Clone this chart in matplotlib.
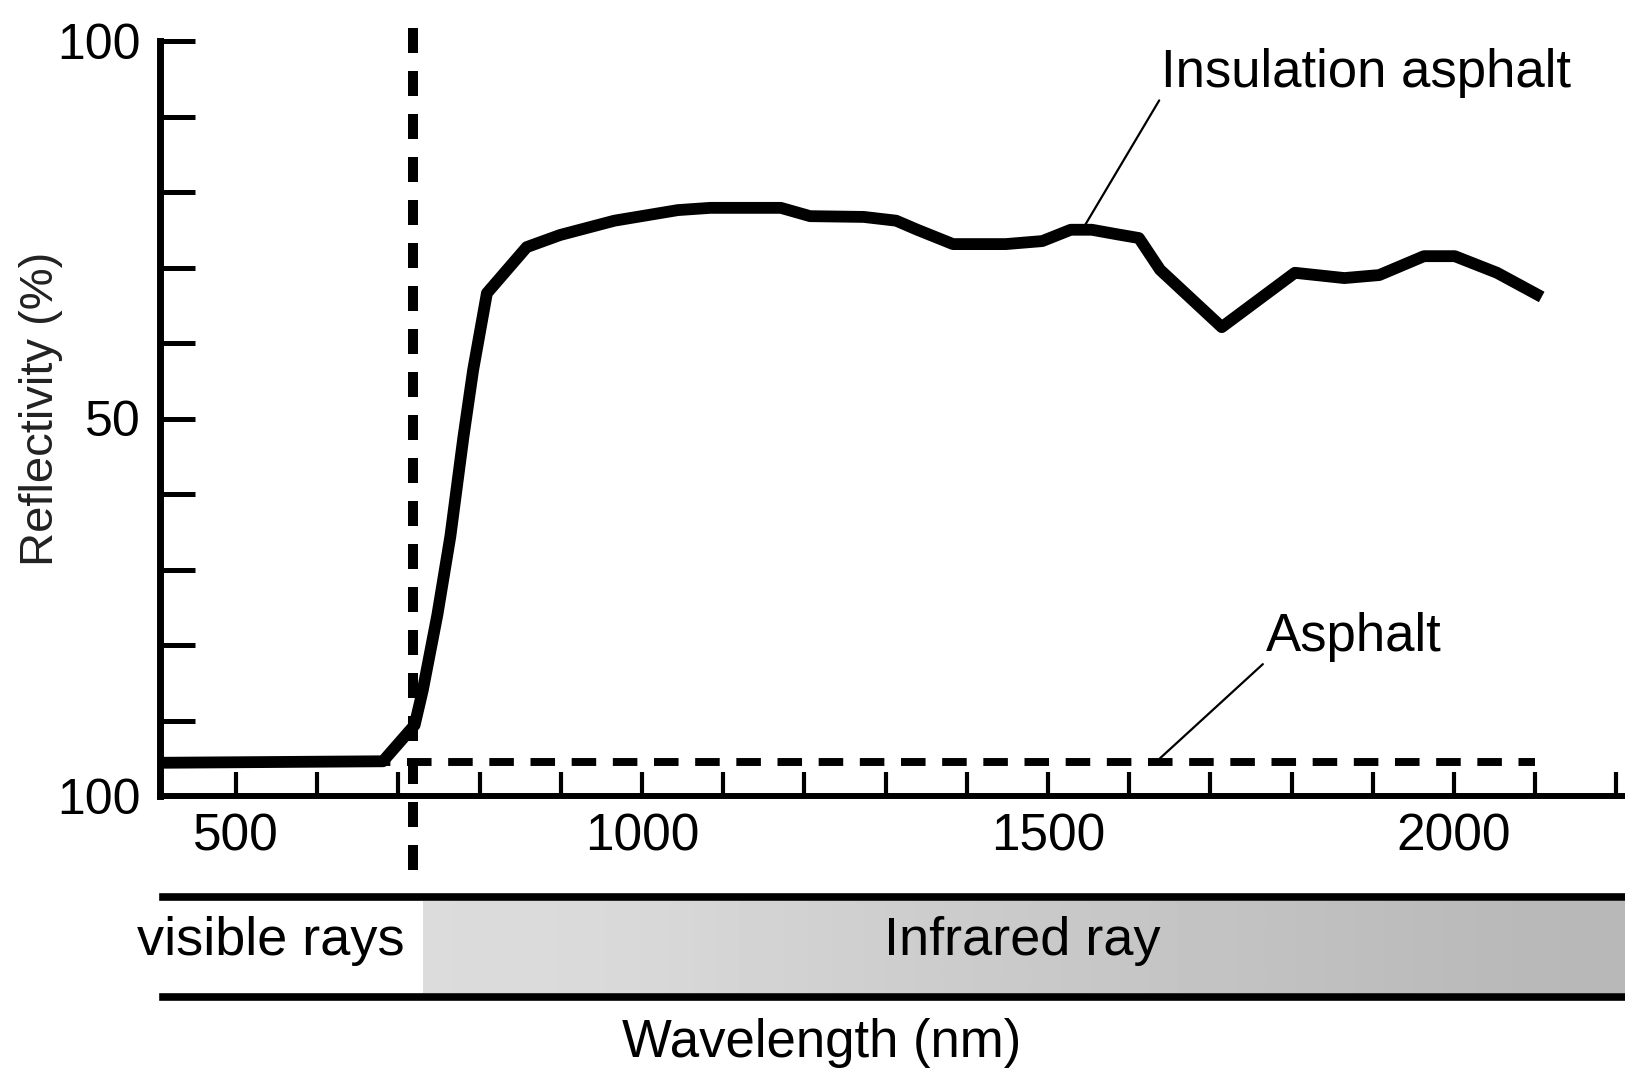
"""
Reflectivity of asphalt vs insulation asphalt
across visible and infrared wavelengths.
"""

import numpy as np
import matplotlib
matplotlib.use("Agg")
import matplotlib.pyplot as plt

plt.rcParams['font.family'] = ['Liberation Sans', 'DejaVu Sans']

# insulation asphalt curve (nm, %)
insul_nm = [406, 681, 720, 730, 748, 764, 780, 792, 809, 858, 899, 966,
            1044, 1084, 1171, 1207, 1273, 1313, 1339, 1383, 1448, 1493,
            1528, 1554, 1585, 1612, 1638, 1714, 1804, 1865, 1908, 1963,
            2001, 2053, 2108]
insul_refl = [4.4, 4.6, 9.4, 14.0, 24.0, 34.4, 47.5, 56.4, 66.6, 72.7, 74.3,
              76.2, 77.6, 77.9, 77.9, 76.8, 76.7, 76.2, 75.0, 73.1, 73.1,
              73.5, 75.0, 75.0, 74.4, 73.9, 69.7, 62.1, 69.3, 68.6, 69.0,
              71.5, 71.5, 69.3, 66.1]

# plain asphalt (flat)
asph_nm = [406, 700, 1000, 1500, 2000, 2100]
asph_refl = [4.5, 4.5, 4.5, 4.5, 4.5, 4.5]

visible_edge_nm = 718
x_min, x_max = 406.4, 2210.6

x_ticks = list(range(500, 2201, 100))
x_tick_labels = ['500', '', '', '', '', '1000', '', '', '', '', '1500',
                 '', '', '', '', '2000', '', '']
y_ticks = list(range(0, 101, 10))
y_tick_labels = ['100', '', '', '', '', '50', '', '', '', '', '100']

W, H = 1625, 1069
fig = plt.figure(figsize=(W / 100, H / 100), dpi=100)
ax = fig.add_axes([160 / W, 273 / H, 1465 / W, 755 / H])
ax.set_xlim(x_min, x_max)
ax.set_ylim(0, 100)

for s in ['top', 'right']:
    ax.spines[s].set_visible(False)
ax.spines['left'].set_linewidth(5)
ax.spines['bottom'].set_linewidth(4.3)

ax.set_xticks(x_ticks)
ax.set_xticklabels(x_tick_labels, fontsize=37)
ax.set_yticks(y_ticks)
ax.set_yticklabels(y_tick_labels, fontsize=36)
ax.tick_params(axis='y', direction='in', length=25, width=3.6, pad=14)
ax.tick_params(axis='x', direction='in', length=17, width=3, pad=12)

# curves
ax.plot(asph_nm, asph_refl, color='black', lw=5.7, ls=(0, (3.1, 2.1)),
        clip_on=False, zorder=3)
ax.plot(insul_nm, insul_refl, color='black', lw=8.5, solid_joinstyle='round',
        solid_capstyle='butt', clip_on=False, zorder=4)

# visible / infrared boundary
ax.plot([visible_edge_nm, visible_edge_nm], [-9.8, 102], color='black',
        lw=7.2, ls=(0, (2.5, 1.8)), clip_on=False, zorder=5)

# labels with leader lines
ax.annotate('Insulation asphalt', xy=(1545, 75.5), xytext=(1639, 92.5),
            fontsize=38, ha='left', va='bottom',
            arrowprops=dict(arrowstyle='-', lw=1.6, color='black',
                            shrinkA=0, shrinkB=0, relpos=(0, 0)))
ax.annotate('Asphalt', xy=(1637, 4.9), xytext=(1768, 17.8),
            fontsize=38, ha='left', va='bottom',
            arrowprops=dict(arrowstyle='-', lw=1.6, color='black',
                            shrinkA=0, shrinkB=0, relpos=(0, 0)))

# spectrum band below the axis
band = fig.add_axes([160 / W, 72 / H, 1465 / W, 100 / H])
band.set_xlim(x_min, x_max)
band.set_ylim(0, 1)
band.axis('off')
shade = np.array([[0.86, 0.85, 0.82, 0.80, 0.78, 0.76, 0.74, 0.72]])
band.imshow(shade, cmap='gray', vmin=0, vmax=1, aspect='auto',
            interpolation='bicubic', extent=(730, x_max, 0.04, 0.96))
band.plot([410, x_max], [1, 1], color='black', lw=5.5, clip_on=False)
band.plot([410, x_max], [0, 0], color='black', lw=5.5, clip_on=False)
band.text(543, 0.56, 'visible rays', fontsize=39, ha='center', va='center')
band.text(1468, 0.56, 'Infrared ray', fontsize=39, ha='center', va='center')

fig.text(822 / W, 1 - 1043 / H, 'Wavelength (nm)', fontsize=38,
         ha='center', va='center')
fig.text(41 / W, 1 - 409 / H, 'Reflectivity (%)', fontsize=34,
         rotation=90, ha='center', va='center', color='#222222')

fig.savefig('out.png', dpi=100)
